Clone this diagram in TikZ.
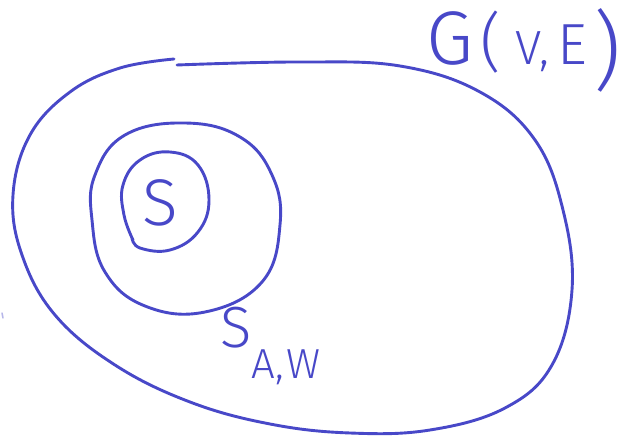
\documentclass[tikz,border=0pt]{standalone}
\usepackage{fontspec}
\newfontfamily\hand{Fira Sans}[UprightFont=* Light]
\definecolor{pen}{RGB}{72,72,200}
\newcommand{\fsz}[1]{\fontsize{#1}{#1}\selectfont}
\begin{document}
\begin{tikzpicture}[x=1pt,y=-1pt,
  penline/.style={draw=pen, line width=2.9pt, line cap=round, line join=round},
  lbl/.style={text=pen, font=\hand, inner sep=0pt, outer sep=0pt}]
\useasboundingbox[fill=white] (0,0) rectangle (624,438);
% outer blob G(V,E)
\draw[penline] plot[smooth, tension=0.65] coordinates {
  (177,65) (300,62) (400,66) (480,92) (535,140) (563,210) (572,290)
  (552,365) (505,408) (430,430) (350,433) (270,424) (190,402) (115,365)
  (55,315) (22,255) (13,195) (30,135) (70,92) (120,68) (174,59)};
% middle ring S_{A,W}
\draw[penline] plot[smooth cycle, tension=0.7] coordinates {
  (185,123) (240,137) (272,175) (280,225) (262,282) (205,312) (145,306)
  (105,272) (92,220) (95,175) (125,135)};
% inner ring S
\draw[penline] plot[smooth, tension=0.7] coordinates {
  (133,240) (124,215) (123,185) (140,160) (170,152) (198,165) (209,200)
  (198,232) (170,250) (140,248) (132,238)};
% stray mark
\draw[draw=pen!40, line width=1.5pt, line cap=round] (2,313) -- (3,318);
% labels
\node[lbl, anchor=center] (s) at (160,203) {\fsz{66}S};
\node[lbl, anchor=base west] (saw) at (220,348)
  {\fsz{58}S\hspace{0pt}\raisebox{-31pt}{\fsz{42}A,\hspace{3pt}W}};
\node[lbl, anchor=base west] (g) at (426,65)
  {\fsz{76}G\hspace{8pt}{\fsz{64}(}\hspace{14pt}{\fsz{48}V,}\hspace{8pt}{\fsz{58}E}\hspace{6pt}\raisebox{-16pt}{\fsz{86})}};
\end{tikzpicture}
\end{document}
